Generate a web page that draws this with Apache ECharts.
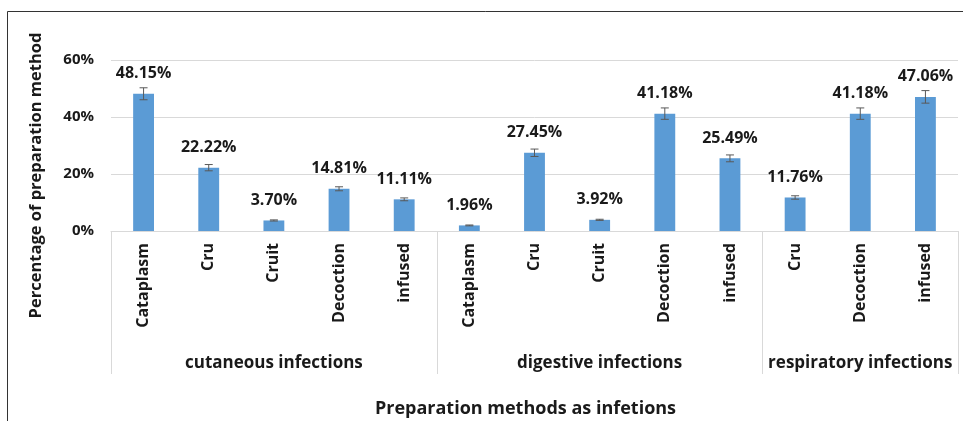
<!DOCTYPE html>
<html>
<head>
<meta charset="utf-8">
<script src="https://cdn.jsdelivr.net/npm/echarts@6/dist/echarts.min.js"></script>
<style>
  html, body { margin: 0; padding: 0; background: #fff; }
  #chart { width: 963px; height: 421px; }
</style>
</head>
<body>
<div id="chart"></div>
<script>
// categories, grouped by infection type
const methods = ['Cataplasm', 'Cru', 'Cruit', 'Decoction', 'infused',
                 'Cataplasm', 'Cru', 'Cruit', 'Decoction', 'infused',
                 'Cru', 'Decoction', 'infused'];
const groupNames = ['cutaneous infections', 'digestive infections', 'respiratory infections'];
const groupStart = [0, 5, 10];
const groupCenter = [2, 7, 11];

// percentages and estimated error bars
const values = [48.15, 22.22, 3.70, 14.81, 11.11,
                1.96, 27.45, 3.92, 41.18, 25.49,
                11.76, 41.18, 47.06];
const errors = [2.1, 1.1, 0.2, 0.7, 0.5,
                0.15, 1.3, 0.2, 2.0, 1.2,
                0.6, 2.0, 2.2];
const yTicks = [0, 20, 40, 60];

const font = '"Open Sans", sans-serif';
const txt = '#1a1a1a';
const chart = echarts.init(document.getElementById('chart'));

const option = {
  animation: false,
  graphic: [{
    type: 'rect',
    shape: { x: 7.5, y: 11.5, width: 1000, height: 500 },
    style: { fill: 'none', stroke: '#333', lineWidth: 1 },
    silent: true
  }],
  grid: { left: 111, right: 5, top: 60, bottom: 190 },
  xAxis: [{
    type: 'category',
    data: methods,
    axisLine: { lineStyle: { color: '#d9d9d9' } },
    axisTick: { show: false },
    axisLabel: {
      rotate: 90, interval: 0, margin: 12,
      color: txt, fontFamily: font, fontWeight: 'bold', fontSize: 16
    },
    name: 'Preparation methods as infetions',
    nameLocation: 'middle',
    nameGap: 169,
    nameTextStyle: { color: txt, fontFamily: font, fontWeight: 'bold', fontSize: 18, padding: [0, 18, 0, 0] }
  }, {
    type: 'category',
    data: methods,
    position: 'bottom',
    axisLine: { show: false },
    axisTick: {
      show: true, length: 143,
      interval: (i) => groupStart.indexOf(i) >= 0,
      lineStyle: { color: '#d9d9d9' }
    },
    axisLabel: {
      interval: (i) => groupCenter.indexOf(i) >= 0,
      formatter: (v, i) => groupNames[groupCenter.indexOf(i)] || '',
      margin: 124,
      color: txt, fontFamily: font, fontWeight: 'bold', fontSize: 17
    }
  }],
  yAxis: {
    type: 'value',
    min: yTicks[0], max: yTicks[yTicks.length - 1], interval: 20,
    axisLine: { show: false },
    axisTick: { show: false },
    splitLine: { lineStyle: { color: '#d9d9d9' } },
    axisLabel: {
      formatter: '{value}%', margin: 17,
      color: txt, fontFamily: font, fontWeight: 'bold', fontSize: 15
    },
    name: 'Percentage of preparation method',
    nameLocation: 'middle',
    nameGap: 66,
    nameTextStyle: { color: txt, fontFamily: font, fontWeight: 'bold', fontSize: 16.5, padding: [0, 60, 0, 0] }
  },
  series: [{
    type: 'bar',
    data: values,
    barWidth: '32%',
    itemStyle: { color: '#5b9bd5' },
    label: {
      show: true, position: 'top', distance: 12,
      formatter: (p) => p.value.toFixed(2) + '%',
      color: txt, fontFamily: font, fontWeight: 'bold', fontSize: 16
    }
  }, {
    type: 'custom',
    data: values.map((v, i) => [i, v, errors[i]]),
    encode: { x: 0, y: 1 },
    z: 3,
    renderItem: (params, api) => {
      const i = api.value(0), v = api.value(1), e = api.value(2);
      const hi = api.coord([i, v + e]);
      const lo = api.coord([i, v - e]);
      const w = 4;
      const st = { stroke: '#595959', lineWidth: 1 };
      return {
        type: 'group',
        children: [
          { type: 'line', shape: { x1: hi[0], y1: hi[1], x2: lo[0], y2: lo[1] }, style: st },
          { type: 'line', shape: { x1: hi[0] - w, y1: hi[1], x2: hi[0] + w, y2: hi[1] }, style: st },
          { type: 'line', shape: { x1: lo[0] - w, y1: lo[1], x2: lo[0] + w, y2: lo[1] }, style: st }
        ]
      };
    }
  }]
};

chart.setOption(option);
</script>
</body>
</html>
